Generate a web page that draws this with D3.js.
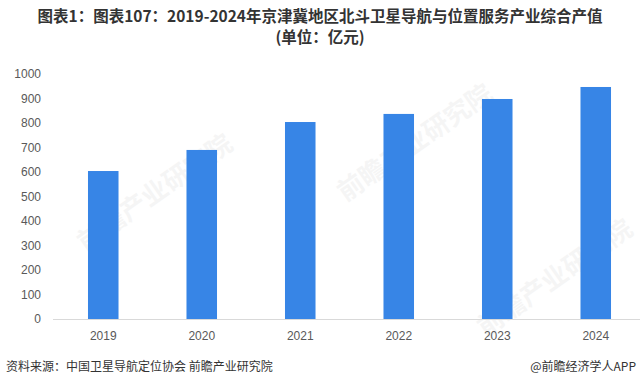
<!DOCTYPE html>
<html>
<head>
<meta charset="utf-8">
<script src="https://cdn.jsdelivr.net/npm/d3@7"></script>
<style>
body{margin:0;background:#fff;}
svg{display:block;font-family:"Noto Sans CJK SC","Liberation Sans",sans-serif;}
</style>
</head>
<body>
<div class="chart"></div>
<script>
'use strict';
var years=["2019","2020","2021","2022","2023","2024"];
var values=[604,690,804,837,898,947];
var yTicks=[0,100,200,300,400,500,600,700,800,900,1000];
var titleLines=["图表1：图表107：2019-2024年京津冀地区北斗卫星导航与位置服务产业综合产值","(单位：亿元)"];
var source="资料来源：中国卫星导航定位协会 前瞻产业研究院";
var credit="@前瞻经济学人APP";

var W=640,H=387;
var svg=d3.select(".chart").append("svg").attr("width",W).attr("height",H);

var xScale=d3.scaleBand().domain(years).range([54,645]).paddingInner(0.69).paddingOuter(0.345);
var yScale=d3.scaleLinear().domain([0,1000]).range([319,74]);

// watermark
var wm=[[160,200],[420,150],[560,285]];
wm.forEach(function(p){
  svg.append("text").attr("transform","translate("+p[0]+","+p[1]+") rotate(-35)")
    .attr("text-anchor","middle").attr("font-size",26).attr("font-weight","bold")
    .attr("fill","#000").attr("opacity",0.035).text("前瞻产业研究院");
});

titleLines.forEach(function(t,i){
  svg.append("text").attr("x",W/2).attr("y",22+i*21).attr("text-anchor","middle")
    .attr("font-size",15.5).attr("font-weight","bold").attr("fill","#333").text(t);
});

svg.append("g").selectAll("text").data(yTicks).enter().append("text")
  .attr("x",41).attr("y",function(d){return yScale(d)+4;})
  .attr("text-anchor","end").attr("font-size",12).attr("fill","#595959")
  .attr("font-family","Liberation Sans, Arial, sans-serif")
  .text(function(d){return d;});

svg.append("g").selectAll("rect").data(values).enter().append("rect")
  .attr("x",function(d,i){return xScale(years[i]);})
  .attr("width",xScale.bandwidth())
  .attr("y",function(d){return yScale(d);})
  .attr("height",function(d){return yScale(0)-yScale(d);})
  .attr("fill","#3785e6");

svg.append("line").attr("x1",53).attr("x2",640).attr("y1",319.5).attr("y2",319.5)
  .attr("stroke","#d9d9d9").attr("stroke-width",1);

svg.append("g").selectAll("text").data(years).enter().append("text")
  .attr("x",function(d){return xScale(d)+xScale.bandwidth()/2;}).attr("y",340)
  .attr("text-anchor","middle").attr("font-size",12).attr("fill","#595959")
  .attr("font-family","Liberation Sans, Arial, sans-serif")
  .text(function(d){return d;});

svg.append("text").attr("x",6).attr("y",371).attr("font-size",12).attr("fill","#333").text(source);
svg.append("text").attr("x",636).attr("y",371).attr("text-anchor","end").attr("font-size",12).attr("fill","#333").text(credit);
</script>
</body>
</html>
